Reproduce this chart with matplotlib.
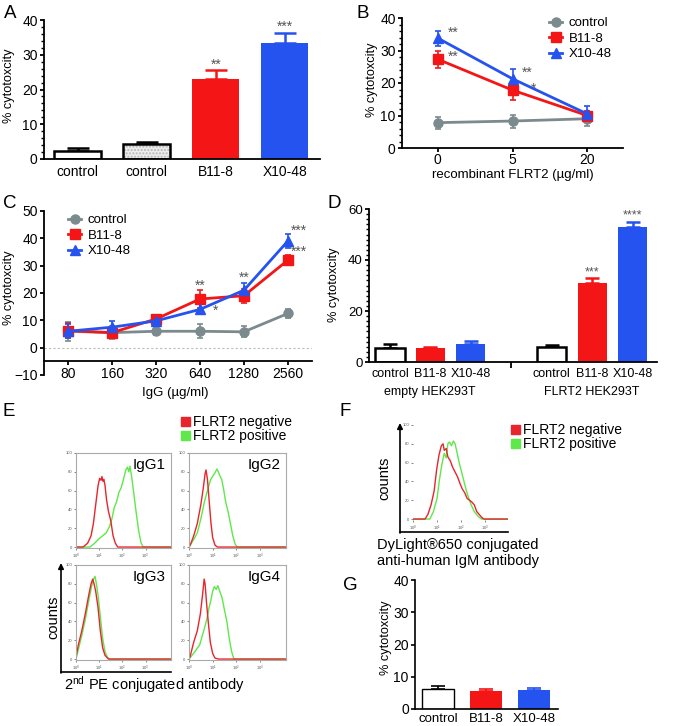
import matplotlib.pyplot as plt
from matplotlib.ticker import AutoMinorLocator
from matplotlib.lines import Line2D
from matplotlib.patches import Rectangle

plt.rcParams['font.family'] = ['Liberation Sans', 'DejaVu Sans']
plt.rcParams['mathtext.fontset'] = 'custom'
plt.rcParams['mathtext.rm'] = 'Liberation Sans'
plt.rcParams['mathtext.it'] = 'Liberation Sans:italic'

W, H = 685, 726
RED = '#f41616'
BLUE = '#2553ef'
GREY = '#7b8b8d'
STAR = '#555555'
HRED = '#e8242c'
HGREEN = '#5fe84a'

# ---- A ----
a_labels = ['control', 'control', 'B11-8', 'X10-48']
a_vals = [2.3, 4.2, 23.0, 33.5]
a_err = [0.8, 0.8, 2.5, 2.7]

# ---- B ----
b_x = ['0', '5', '20']
b_control = [7.8, 8.3, 9.0]
b_control_err = [1.8, 2.0, 2.3]
b_b118 = [27.3, 17.8, 10.0]
b_b118_err = [2.6, 2.9, 1.5]
b_x1048 = [33.8, 21.3, 10.5]
b_x1048_err = [2.3, 2.9, 2.5]

# ---- C ----
c_x = ['80', '160', '320', '640', '1280', '2560']
c_control = [6.0, 5.5, 6.0, 6.0, 5.8, 12.5]
c_control_err = [3.5, 2.5, 1.5, 2.5, 2.0, 1.5]
c_b118 = [6.2, 5.5, 10.5, 17.8, 19.0, 32.0]
c_b118_err = [2.8, 2.0, 1.5, 3.2, 2.5, 1.8]
c_x1048 = [6.0, 7.5, 9.8, 14.0, 21.0, 39.0]
c_x1048_err = [2.5, 2.2, 1.5, 1.8, 2.8, 2.5]

# ---- D ----
d_labels = ['control', 'B11-8', 'X10-48']
d_groups = ['empty HEK293T', 'FLRT2 HEK293T']
d_empty = [5.5, 5.5, 7.2]
d_empty_err = [1.5, 0.5, 1.0]
d_flrt2 = [6.0, 31.0, 53.0]
d_flrt2_err = [0.8, 2.0, 2.0]

# ---- E (flow histograms, x in log10 decades) ----
e_titles = ['IgG1', 'IgG2', 'IgG3', 'IgG4']
e1_neg_x = [0.0, 0.3, 0.5, 0.65, 0.75, 0.85, 0.95, 1.02, 1.08, 1.12, 1.16, 1.2, 1.25, 1.32, 1.4, 1.5, 1.6, 1.7, 1.8, 4.1]
e1_neg_y = [0, 0, 4, 12, 25, 45, 65, 73, 71, 75, 70, 72, 66, 50, 38, 28, 12, 4, 0, 0]
e1_pos_x = [0.0, 0.6, 0.8, 1.0, 1.15, 1.3, 1.45, 1.55, 1.65, 1.75, 1.85, 1.95, 2.05, 2.15, 2.22, 2.28, 2.33, 2.4, 2.48, 2.58, 2.7, 2.8, 2.9, 4.1]
e1_pos_y = [0, 0, 4, 9, 12, 15, 22, 30, 42, 48, 58, 63, 72, 82, 85, 80, 86, 75, 60, 40, 18, 5, 0, 0]
e2_neg_x = [0.0, 0.05, 0.2, 0.35, 0.5, 0.6, 0.68, 0.72, 0.78, 0.85, 0.93, 1.0, 1.1, 1.2, 4.1]
e2_neg_y = [0, 2, 12, 25, 45, 62, 78, 82, 72, 50, 25, 10, 2, 0, 0]
e2_pos_x = [0.0, 0.05, 0.2, 0.35, 0.5, 0.65, 0.8, 0.92, 1.02, 1.1, 1.18, 1.24, 1.3, 1.38, 1.46, 1.55, 1.65, 1.75, 1.85, 1.95, 2.05, 4.1]
e2_pos_y = [0, 2, 8, 15, 30, 48, 62, 72, 76, 79, 83, 80, 76, 72, 62, 48, 38, 25, 12, 3, 0, 0]
e3_neg_x = [0.0, 0.1, 0.25, 0.4, 0.55, 0.65, 0.72, 0.78, 0.85, 0.95, 1.05, 1.15, 1.25, 1.4, 4.1]
e3_neg_y = [2, 15, 30, 48, 68, 80, 85, 80, 72, 55, 30, 12, 4, 0, 0]
e3_pos_x = [0.0, 0.1, 0.25, 0.4, 0.55, 0.68, 0.76, 0.82, 0.88, 0.95, 1.05, 1.15, 1.25, 1.35, 1.45, 4.1]
e3_pos_y = [0, 10, 25, 42, 62, 78, 85, 88, 80, 68, 45, 22, 8, 2, 0, 0]
e4_neg_x = [0.0, 0.05, 0.2, 0.35, 0.48, 0.58, 0.64, 0.68, 0.74, 0.82, 0.9, 1.0, 1.1, 1.25, 4.1]
e4_neg_y = [0, 3, 18, 30, 48, 70, 85, 80, 60, 38, 18, 6, 1, 0, 0]
e4_pos_x = [0.0, 0.1, 0.25, 0.45, 0.6, 0.75, 0.85, 0.92, 1.0, 1.07, 1.15, 1.22, 1.3, 1.4, 1.5, 1.6, 1.7, 1.8, 1.9, 4.1]
e4_pos_y = [0, 3, 8, 15, 28, 42, 55, 62, 72, 77, 74, 78, 72, 65, 52, 40, 22, 8, 0, 0]

# ---- F ----
f_neg_x = [0.0, 0.5, 0.62, 0.75, 0.88, 0.98, 1.08, 1.18, 1.25, 1.3, 1.38, 1.45, 1.55, 1.65, 1.75, 1.85, 1.95, 2.05, 2.15, 2.25, 2.35, 2.45, 2.55, 2.65, 2.75, 2.85, 2.95, 3.95]
f_neg_y = [0, 0, 5, 15, 30, 52, 68, 78, 80, 73, 75, 66, 62, 55, 50, 45, 38, 32, 28, 22, 20, 18, 15, 8, 5, 2, 0, 0]
f_pos_x = [0.0, 0.7, 0.85, 1.0, 1.1, 1.2, 1.3, 1.38, 1.45, 1.52, 1.6, 1.68, 1.75, 1.82, 1.92, 2.02, 2.12, 2.22, 2.32, 2.42, 2.55, 2.7, 2.85, 3.95]
f_pos_y = [0, 0, 8, 22, 42, 58, 70, 65, 80, 82, 78, 83, 80, 72, 60, 50, 40, 30, 22, 15, 8, 3, 0, 0]

# ---- G ----
g_labels = ['control', 'B11-8', 'X10-48']
g_vals = [6.3, 5.5, 6.0]
g_err = [0.8, 0.8, 0.6]

fig = plt.figure(figsize=(W / 100, H / 100), dpi=100)


def px_axes(x0, y0, x1, y1):
    return fig.add_axes([x0 / W, 1 - y1 / H, (x1 - x0) / W, (y1 - y0) / H])


def prism(ax, lw=1.3, size=10):
    for s in ['top', 'right']:
        ax.spines[s].set_visible(False)
    ax.spines['left'].set_linewidth(lw)
    ax.spines['bottom'].set_linewidth(lw)
    ax.tick_params(direction='out', length=3, width=lw, labelsize=size, pad=1.5)
    ax.tick_params(which='minor', direction='out', length=2, width=1)
    ax.patch.set_alpha(0)


def up_err(ax, xs, vals, errs, colors, lw, cap):
    # upper-only error bars, one per bar
    for x, v, e, c in zip(xs, vals, errs, colors):
        ax.errorbar([x], [v], yerr=[[0], [e]], fmt='none', ecolor=c,
                    elinewidth=lw, capsize=cap, capthick=lw, zorder=1)


# A
ax = px_axes(44, 20, 320, 159)
prism(ax)
xa = list(range(len(a_vals)))
up_err(ax, xa, a_vals, a_err, ['black', 'black', RED, BLUE], 1.8, 8)
ax.bar(xa[:2], a_vals[:2], width=0.68, color=['white', '#ececec'], edgecolor='#b5b5b5',
       hatch=[None, '.....'], linewidth=0, zorder=2)
ax.bar(xa[:2], a_vals[:2], width=0.68, facecolor='none', edgecolor='black', linewidth=1.8, zorder=3)
ax.bar(xa[2:], a_vals[2:], width=0.68, color=[RED, BLUE], zorder=2)
ax.set_xlim(-0.49, 3.51)
ax.set_ylim(0, 40)
ax.set_yticks([0, 10, 20, 30, 40])
ax.yaxis.set_minor_locator(AutoMinorLocator(5))
ax.set_xticks(xa, a_labels)
ax.tick_params(axis='x', length=0, pad=4)
ax.text(2, 27.0, '**', ha='center', va='center', color=STAR, fontsize=10)
ax.text(3, 38.0, '***', ha='center', va='center', color=STAR, fontsize=10)

# B
ax = px_axes(402, 18, 623, 148)
prism(ax)
xb = list(range(len(b_x)))
for vals, errs, col, mk in [(b_control, b_control_err, GREY, 'o'),
                            (b_b118, b_b118_err, RED, 's'),
                            (b_x1048, b_x1048_err, BLUE, '^')]:
    ax.errorbar(xb, vals, yerr=errs, color=col, marker=mk, ms=6.5, lw=2,
                elinewidth=1.2, capsize=2.5, capthick=1.2)
ax.set_xlim(-0.48, 2.48)
ax.set_ylim(0, 40)
ax.set_yticks([0, 10, 20, 30, 40])
ax.yaxis.set_minor_locator(AutoMinorLocator(5))
ax.set_xticks(xb, b_x)
ax.tick_params(axis='x', pad=0.5)
for x, y, s in [(0.2, 35.3, '**'), (0.2, 28.0, '**'), (1.2, 23.0, '**'), (1.28, 18.3, '*')]:
    ax.text(x, y, s, ha='center', va='center', color=STAR, fontsize=10)
hb = [Line2D([], [], color=GREY, marker='o', lw=2, ms=6.5),
      Line2D([], [], color=RED, marker='s', lw=2, ms=6.5),
      Line2D([], [], color=BLUE, marker='^', lw=2, ms=6.5)]
ax.legend(hb, ['control', 'B11-8', 'X10-48'], loc='upper left', bbox_to_anchor=(549 / W, 1 - 17 / H),
          bbox_transform=fig.transFigure, frameon=False, handlelength=1.0, handletextpad=0.5,
          labelspacing=0.25, borderaxespad=0, borderpad=0, fontsize=9.5)

# C
ax = px_axes(44, 211, 312, 375)
prism(ax)
xc = list(range(len(c_x)))
ax.axhline(0, color='#bbbbbb', lw=0.8, ls=(0, (2, 2)), zorder=0)
for vals, errs, col, mk in [(c_control, c_control_err, GREY, 'o'),
                            (c_b118, c_b118_err, RED, 's'),
                            (c_x1048, c_x1048_err, BLUE, '^')]:
    ax.errorbar(xc, vals, yerr=errs, color=col, marker=mk, ms=6.5, lw=2,
                elinewidth=1.2, capsize=2.5, capthick=1.2)
ax.set_xlim(-0.55, 5.55)
ax.set_ylim(-10, 50)
ax.spines['bottom'].set_position(('data', -5))
ax.set_yticks(range(-10, 51, 10))
ax.set_xticks(xc, c_x)
ax.tick_params(axis='x', pad=1)
for x, y, s in [(3, 22.5, '**'), (3.35, 13.5, '*'), (4, 25.5, '**'), (5.25, 42.8, '***'), (5.25, 35.0, '***')]:
    ax.text(x, y, s, ha='center', va='center', color=STAR, fontsize=10)
ax.legend(hb, ['control', 'B11-8', 'X10-48'], loc='upper left', bbox_to_anchor=(68 / W, 1 - 214 / H),
          bbox_transform=fig.transFigure, frameon=False, handlelength=1.0, handletextpad=0.5,
          labelspacing=0.25, borderaxespad=0, borderpad=0, fontsize=9.5)

# D
ax = px_axes(369, 209, 657, 362)
prism(ax, size=9.5)
xd1 = [0, 1, 2]
xd2 = [4, 5, 6]
d_cols = ['white', RED, BLUE]
d_ecol = ['black', RED, BLUE]
for xs, vals, errs in [(xd1, d_empty, d_empty_err), (xd2, d_flrt2, d_flrt2_err)]:
    up_err(ax, xs, vals, errs, d_ecol, 1.8, 5)
    ax.bar(xs, vals, width=0.72, color=d_cols, edgecolor=d_ecol,
           linewidth=[1.8, 0, 0], zorder=2)
ax.set_xlim(-0.52, 6.6)
ax.set_ylim(0, 60)
ax.set_yticks([0, 20, 40, 60])
ax.yaxis.set_minor_locator(AutoMinorLocator(10))
ax.set_xticks(xd1 + xd2, d_labels + d_labels)
ax.set_xticks([3], minor=True)
ax.tick_params(axis='x', which='major', length=0, pad=4, labelsize=9)
ax.tick_params(axis='x', which='minor', length=4, width=1.3)
ax.text(5, 35.0, '***', ha='center', va='center', color=STAR, fontsize=9)
ax.text(6, 57.6, '****', ha='center', va='center', color=STAR, fontsize=9)

# G
ax = px_axes(415, 580, 558, 709)
prism(ax, lw=1.2, size=10)
xg = list(range(len(g_vals)))
up_err(ax, xg, g_vals, g_err, ['black', RED, BLUE], 1.2, 5)
ax.bar(xg, g_vals, width=0.67, color=['white', RED, BLUE], edgecolor=['black', RED, BLUE],
       linewidth=[1.0, 0, 0], zorder=2)
ax.set_xlim(-0.48, 2.5)
ax.set_ylim(0, 40)
ax.set_yticks([0, 10, 20, 30, 40])
ax.set_xticks(xg, g_labels)
ax.tick_params(axis='x', length=0, pad=3, labelsize=9.5)


# E / F histograms
def histo(ax, neg, pos, xmax, frame=True):
    ax.plot(pos[0], pos[1], color=HGREEN, lw=1.0)
    ax.plot(neg[0], neg[1], color=HRED, lw=1.0)
    ax.set_xlim(0, xmax)
    ax.set_ylim(-1, 100)
    ax.set_yticks([0, 20, 40, 60, 80, 100])
    ax.set_xticks([0, 1, 2, 3], [r'$10^{%d}$' % k for k in range(4)])
    ax.tick_params(labelsize=3, length=1.5, width=0.5, pad=1, colors='#555555')
    for s in ax.spines.values():
        s.set_color('#aaaaaa')
        s.set_linewidth(0.8)
        s.set_visible(frame)


e_boxes = [(76, 453, 171, 548), (189, 453, 286, 548), (76, 565, 171, 660), (189, 565, 286, 660)]
e_data = [((e1_neg_x, e1_neg_y), (e1_pos_x, e1_pos_y)),
          ((e2_neg_x, e2_neg_y), (e2_pos_x, e2_pos_y)),
          ((e3_neg_x, e3_neg_y), (e3_pos_x, e3_pos_y)),
          ((e4_neg_x, e4_neg_y), (e4_pos_x, e4_pos_y))]
for box, (neg, pos), title in zip(e_boxes, e_data, e_titles):
    ax = px_axes(*box)
    histo(ax, neg, pos, 4.1)
    ax.text(0.94, 0.95, title, ha='right', va='top', fontsize=11, transform=ax.transAxes)

ax = px_axes(413, 425, 508, 520)
histo(ax, (f_neg_x, f_neg_y), (f_pos_x, f_pos_y), 3.95, frame=False)

# overlay: panel letters, axis titles, arrows, legends
ov = fig.add_axes([0, 0, 1, 1], zorder=10)
ov.set_xlim(0, W)
ov.set_ylim(H, 0)
ov.axis('off')

for s, x, y in [('A', 4, 13), ('B', 357, 13), ('C', 3, 203), ('D', 328, 203),
                ('E', 2, 411), ('F', 340, 411), ('G', 343, 585)]:
    ov.text(x, y, s, fontsize=13.5, ha='left', va='center')

yl = '% cytotoxcity'
for x, y in [(9, 86), (372, 80), (9, 288), (334, 285), (386, 638)]:
    ov.text(x, y, yl, rotation=90, ha='center', va='center', fontsize=9.2)
ov.text(513, 175, 'recombinant FLRT2 (µg/ml)', ha='center', va='center', fontsize=9.5)
ov.text(175, 393, 'IgG (µg/ml)', ha='center', va='center', fontsize=9.5)
ov.text(430, 392, d_groups[0], ha='center', va='center', fontsize=9)
ov.text(592, 392, d_groups[1], ha='center', va='center', fontsize=9)

# E arrows and labels
ov.annotate('', xy=(61, 563), xytext=(61, 673),
            arrowprops=dict(arrowstyle='-|>', lw=1.2, color='black', mutation_scale=8, shrinkA=0, shrinkB=0))
ov.plot([61, 171], [672, 672], color='black', lw=1.2)
ov.text(53, 617, 'counts', rotation=90, ha='center', va='center', fontsize=10.5)
ov.text(64, 685, r'2$^{\rm nd}$ PE conjugated antibody', ha='left', va='center', fontsize=10.5)

# F arrows and labels
ov.annotate('', xy=(400, 423), xytext=(400, 533),
            arrowprops=dict(arrowstyle='-|>', lw=1.2, color='black', mutation_scale=8, shrinkA=0, shrinkB=0))
ov.plot([400, 508], [532, 532], color='black', lw=1.2)
ov.text(384, 478, 'counts', rotation=90, ha='center', va='center', fontsize=10.5)
ov.text(458, 545, 'DyLight®650 conjugated', ha='center', va='center', fontsize=10.5)
ov.text(458, 561, 'anti-human IgM antibody', ha='center', va='center', fontsize=10.5)

# legends for histograms
for x0, y0, tx in [(181, 417, 193), (511, 425, 523)]:
    ov.add_patch(Rectangle((x0, y0), 9, 9, color=HRED))
    ov.add_patch(Rectangle((x0, y0 + 14), 9, 9, color=HGREEN))
    ov.text(tx, y0 + 5, 'FLRT2 negative', ha='left', va='center', fontsize=10)
    ov.text(tx, y0 + 19, 'FLRT2 positive', ha='left', va='center', fontsize=10)

fig.savefig('out.png', dpi=100)
